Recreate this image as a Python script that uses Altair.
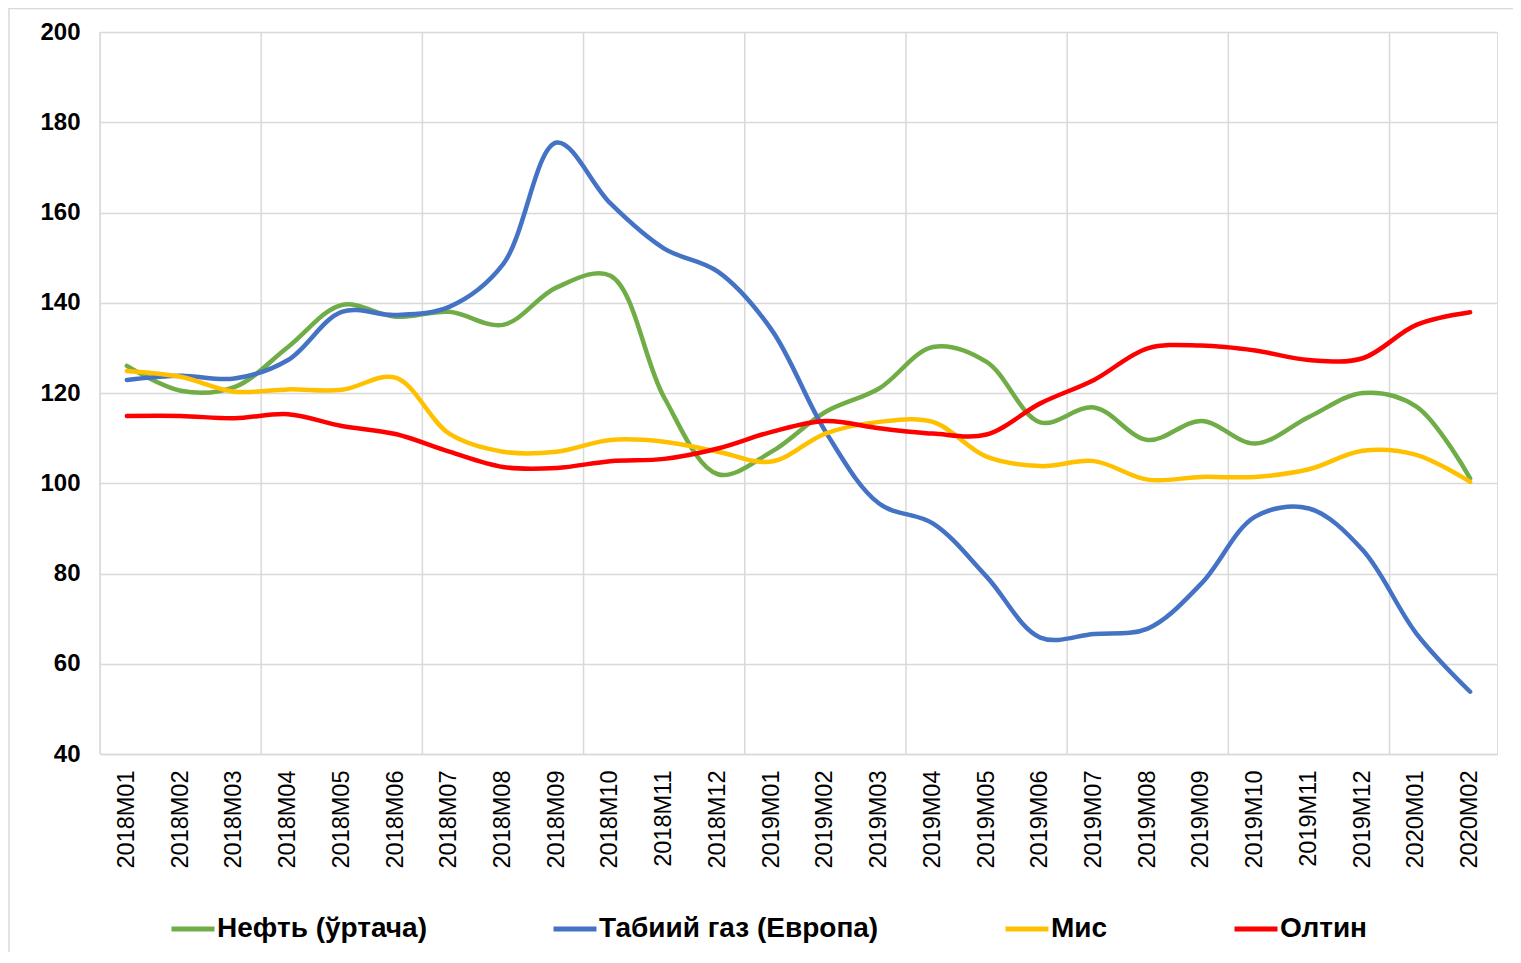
import altair as alt
import pandas as pd

months = ["2018M01", "2018M02", "2018M03", "2018M04", "2018M05", "2018M06",
          "2018M07", "2018M08", "2018M09", "2018M10", "2018M11", "2018M12",
          "2019M01", "2019M02", "2019M03", "2019M04", "2019M05", "2019M06",
          "2019M07", "2019M08", "2019M09", "2019M10", "2019M11", "2019M12",
          "2020M01", "2020M02"]

series_names = ["Нефть (ўртача)", "Табиий газ (Европа)", "Мис", "Олтин"]
series_colors = ["#70AD47", "#4472C4", "#FFC000", "#FF0000"]

oil = [126, 120.5, 121.3, 130.2, 139.5, 136.9, 138, 135.1, 143.4, 146, 119, 102,
       107, 115.8, 121, 130.2, 126.9, 113.5, 116.8, 109.6, 113.8, 108.8, 114.7, 120,
       117, 101.1]
gas = [122.9, 123.8, 123.2, 127.3, 138, 137.3, 139.1, 148.5, 175.5, 162, 152, 146.9,
       134, 111.5, 95.5, 91.1, 79.3, 65.8, 66.6, 67.8, 77.8, 92.6, 94.4, 85.2,
       66.7, 53.8]
copper = [124.9, 123.6, 120.3, 120.8, 120.7, 123.4, 111, 107, 107, 109.6, 109.2, 107,
          104.8, 111, 113.6, 113.6, 105.9, 103.8, 104.9, 100.8, 101.4, 101.4, 103.1, 107.2,
          106.3, 100.3]
gold = [114.9, 114.9, 114.4, 115.3, 112.7, 110.9, 107, 103.6, 103.4, 104.9, 105.4, 107.7,
        111.4, 113.8, 112.2, 111, 110.8, 117.7, 122.9, 129.9, 130.5, 129.4, 127.3, 127.7,
        135.1, 137.9]

y_ticks = [40, 60, 80, 100, 120, 140, 160, 180, 200]
grid_months = months[::3]

rows = []
for name, vals in zip(series_names, [oil, gas, copper, gold]):
    for m, v in zip(months, vals):
        rows.append({"month": m, "series": name, "value": v})
df = pd.DataFrame(rows)

W, H = 1397, 722
FONT = "Liberation Sans"

xscale = alt.Scale(type="band", paddingInner=0, paddingOuter=0)
xaxis = alt.Axis(title=None, labelAngle=-90, ticks=False, grid=False,
                 labelPadding=16, labelFontSize=23.5, labelFont=FONT,
                 labelColor="#000000", domainColor="#d9d9d9",
                 domainWidth=1.5, bandPosition=0.5)

border = alt.Chart(pd.DataFrame({"a": [0]})).mark_rect(
    filled=False, stroke="#d9d9d9", strokeWidth=1.5
).encode(
    x=alt.value(-91), x2=alt.value(W + 200),
    y=alt.value(-23.5), y2=alt.value(H + 400),
)

vgrid = alt.Chart(pd.DataFrame({"month": grid_months})).mark_rule(
    color="#d9d9d9", strokeWidth=1.5
).encode(
    x=alt.X("month:N", sort=months, scale=xscale, bandPosition=0, axis=xaxis),
    y=alt.value(0),
    y2=alt.value(H),
)

lines = alt.Chart(df).mark_line(
    interpolate="catmull-rom", strokeWidth=4.5, strokeCap="round"
).encode(
    x=alt.X("month:N", sort=months, scale=xscale, bandPosition=0.5, axis=xaxis),
    y=alt.Y("value:Q", scale=alt.Scale(domain=[40, 200], nice=False, zero=False),
            axis=alt.Axis(title=None, values=y_ticks, ticks=False, domain=False,
                          labelPadding=20, labelFontSize=24, labelFont=FONT,
                          labelFontWeight="bold", labelColor="#000000",
                          gridColor="#d9d9d9", gridWidth=1.5)),
    color=alt.Color("series:N",
                    scale=alt.Scale(domain=series_names, range=series_colors),
                    legend=alt.Legend(title=None, orient="none", direction="horizontal",
                                      legendX=69, legendY=873,
                                      symbolType="stroke", symbolSize=1849,
                                      symbolStrokeWidth=5, labelOffset=0,
                                      columnPadding=116, labelFontSize=28,
                                      labelFont=FONT, labelFontWeight="bold",
                                      labelColor="#000000", labelLimit=0)),
    order=alt.Order("series:N"),
)

chart = alt.layer(border, vgrid, lines).properties(
    width=W, height=H,
    autosize=alt.AutoSizeParams(type="none"),
    padding={"left": 92, "top": 24, "right": 16, "bottom": 198},
).configure_view(
    stroke="#d9d9d9", strokeWidth=1.5
).configure(background="white")

chart.save("out.html", embed_options={"renderer": "svg", "actions": False})
